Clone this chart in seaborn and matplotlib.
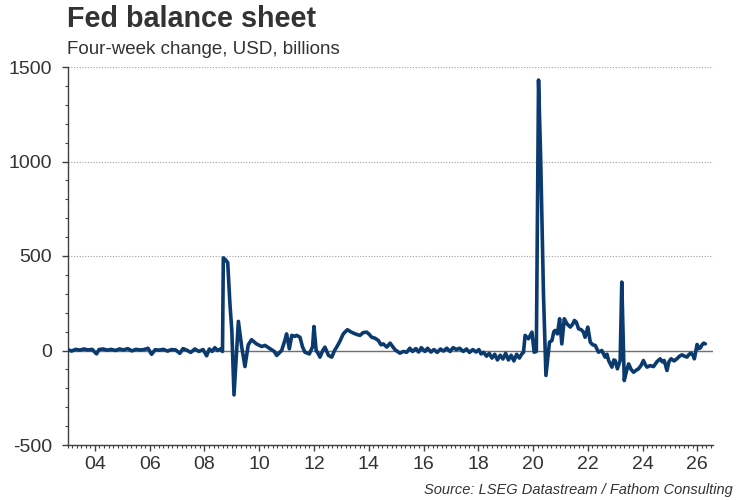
import pandas as pd
import matplotlib
matplotlib.use("Agg")
import matplotlib.pyplot as plt
import matplotlib.ticker as mticker
import seaborn as sns

sns.set_style("ticks")
plt.rcParams["font.family"] = ["Liberation Sans", "DejaVu Sans"]
plt.rcParams["axes.unicode_minus"] = False

# ----- data: four-week change in Fed balance sheet (USD bn), time in decimal years -----
years = [
    2003.00, 2003.15, 2003.30, 2003.45, 2003.60, 2003.75, 2003.90, 2004.06, 2004.15, 2004.30,
    2004.45, 2004.60, 2004.75, 2004.90, 2005.05, 2005.20, 2005.35, 2005.50, 2005.65, 2005.80,
    2005.94, 2006.07, 2006.20, 2006.35, 2006.50, 2006.65, 2006.80, 2006.95, 2007.10, 2007.22,
    2007.35, 2007.50, 2007.65, 2007.80, 2007.95, 2008.08, 2008.18, 2008.28, 2008.38, 2008.48,
    2008.58, 2008.66, 2008.69, 2008.77, 2008.85, 2008.93, 2009.00, 2009.08, 2009.24, 2009.36,
    2009.48, 2009.60, 2009.72, 2009.90, 2010.09, 2010.21, 2010.40, 2010.55, 2010.64, 2010.82,
    2010.95, 2011.00, 2011.10, 2011.19, 2011.30, 2011.37, 2011.49, 2011.58, 2011.67, 2011.83,
    2011.95, 2012.00, 2012.08, 2012.15, 2012.22, 2012.32, 2012.40, 2012.53, 2012.65, 2012.75,
    2012.83, 2012.95, 2013.07, 2013.22, 2013.33, 2013.44, 2013.56, 2013.68, 2013.80, 2013.93,
    2014.02, 2014.11, 2014.23, 2014.35, 2014.45, 2014.53, 2014.66, 2014.78, 2014.96, 2015.14,
    2015.26, 2015.39, 2015.50, 2015.60, 2015.72, 2015.82, 2015.92, 2016.05, 2016.15, 2016.27,
    2016.38, 2016.50, 2016.62, 2016.73, 2016.85, 2016.97, 2017.08, 2017.20, 2017.32, 2017.45,
    2017.57, 2017.68, 2017.80, 2017.92, 2018.02, 2018.10, 2018.20, 2018.30, 2018.40, 2018.50,
    2018.60, 2018.70, 2018.80, 2018.90, 2019.00, 2019.10, 2019.20, 2019.30, 2019.40, 2019.50,
    2019.59, 2019.65, 2019.71, 2019.83, 2019.96, 2020.04, 2020.12, 2020.20, 2020.28, 2020.38,
    2020.47, 2020.53, 2020.60, 2020.69, 2020.76, 2020.81, 2020.89, 2020.97, 2021.05, 2021.14,
    2021.24, 2021.36, 2021.45, 2021.51, 2021.58, 2021.66, 2021.76, 2021.84, 2021.90, 2022.00,
    2022.09, 2022.18, 2022.27, 2022.39, 2022.51, 2022.63, 2022.70, 2022.76, 2022.88, 2022.95,
    2023.00, 2023.08, 2023.18, 2023.24, 2023.33, 2023.41, 2023.49, 2023.58, 2023.67, 2023.76,
    2023.85, 2023.94, 2024.03, 2024.10, 2024.16, 2024.28, 2024.40, 2024.52, 2024.64, 2024.72,
    2024.79, 2024.89, 2024.96, 2025.04, 2025.15, 2025.25, 2025.35, 2025.44, 2025.53, 2025.62,
    2025.70, 2025.77, 2025.84, 2025.89, 2025.99, 2026.05, 2026.11, 2026.17, 2026.23, 2026.29,
]
change_bn = [
    5, -3, 6, 2, 8, 3, 6, -18, 5, 8,
    2, 6, 0, 8, 3, 10, -2, 6, 3, 5,
    12, -20, 4, 2, 6, -3, 5, 3, -15, 10,
    2, -10, 8, -5, 5, -28, 8, -5, 15, 0,
    8, -5, 490, 480, 465, 250, 106, -235, 154, 20,
    -85, 30, 57, 35, 21, 27, 9, -5, -26, 0,
    60, 88, 9, 80, 75, 80, 70, 20, -9, -18,
    20, 127, 0, -15, -35, 0, 18, -26, -35, 0,
    18, 50, 88, 110, 100, 92, 85, 80, 95, 97,
    85, 70, 65, 53, 30, 35, 18, 39, 4, -14,
    -5, -9, 12, -5, 10, -8, 15, -5, 12, -8,
    5, -10, 8, -3, 12, -5, 15, 5, 12, -5,
    8, -10, 5, -8, 5, -18, -10, -30, -15, -40,
    -20, -50, -25, -45, -15, -50, -25, -55, -20, -40,
    -18, -10, 80, 62, 97, -9, -5, 1431, 1007, 300,
    -132, -50, 44, 53, 100, 106, 88, 168, 35, 168,
    141, 124, 140, 159, 150, 115, 110, 97, 70, 124,
    44, 30, 27, -9, 0, -35, -20, -53, -88, -50,
    -53, -97, -53, 362, -159, -110, -71, -100, -115, -105,
    -97, -80, -53, -75, -88, -80, -85, -60, -44, -60,
    -53, -106, -60, -44, -55, -44, -30, -23, -30, -35,
    -20, -14, -25, -44, 32, 10, 14, 30, 39, 35,
]

df = pd.DataFrame({"year": years, "change": change_bn})

text_col = "#333333"
line_col = "#0b3a6e"

fig = plt.figure(figsize=(7.5, 5), dpi=100)
ax = fig.add_axes([0.09, 0.11, 0.861, 0.756])

ax.axhline(0, color="#707070", lw=1.0, zorder=1)
sns.lineplot(data=df, x="year", y="change", ax=ax, color=line_col, lw=2.6, zorder=3)

ax.set_xlim(2003.0, 2026.58)
ax.set_ylim(-500, 1500)
ax.set_xticks(range(2004, 2027, 2))
ax.xaxis.set_minor_locator(mticker.MultipleLocator(1 / 6))
ax.xaxis.set_major_formatter(mticker.FuncFormatter(lambda v, p: f"{int(round(v)) % 100:02d}"))
ax.yaxis.set_major_locator(mticker.MultipleLocator(500))
ax.yaxis.set_minor_locator(mticker.MultipleLocator(100))

ax.grid(axis="y", which="major", linestyle=(0, (1, 1.5)), color="#a0a0a0", lw=0.8, zorder=0)
ax.set_xlabel("")
ax.set_ylabel("")

for s in ["top", "right"]:
    ax.spines[s].set_visible(False)
for s in ["left", "bottom"]:
    ax.spines[s].set_color("#404040")
    ax.spines[s].set_linewidth(1.0)

ax.tick_params(axis="both", which="major", direction="out", length=4, width=1,
               color="#404040", labelsize=14, labelcolor=text_col)
ax.tick_params(axis="both", which="minor", direction="out", length=2.5, width=0.8, color="#404040")
ax.tick_params(axis="y", which="major", pad=7)
ax.tick_params(axis="x", which="major", pad=4)

fig.text(0.089, 0.946, "Fed balance sheet", fontsize=20.7, fontweight="bold",
         color=text_col, ha="left", va="baseline")
fig.text(0.089, 0.893, "Four-week change, USD, billions", fontsize=13.5,
         color=text_col, ha="left", va="baseline")
fig.text(0.977, 0.012, "Source: LSEG Datastream / Fathom Consulting", fontsize=10.5,
         style="italic", color=text_col, ha="right", va="baseline")

fig.savefig("out.png", dpi=100)
